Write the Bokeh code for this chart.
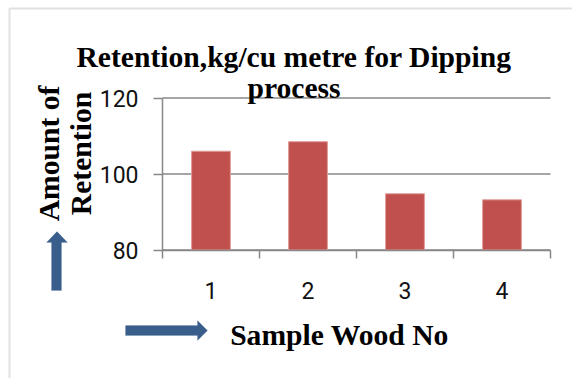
from math import pi

from bokeh.embed import file_html
from bokeh.models import (FixedTicker, Label, LinearAxis, PolyAnnotation,
                          Range1d)
from bokeh.plotting import figure
from bokeh.resources import INLINE

# Retention (kg per cubic metre) for the dipping process
samples = [1, 2, 3, 4]
retention = [106.0, 108.5, 94.8, 93.2]
tick_labels = {1: "1", 2: "2", 3: "3", 4: "4"}
y_ticks = [80, 100, 120]
category_edges = [0.5, 1.5, 2.5, 3.5, 4.5]

title_lines = ["Retention,kg/cu metre for Dipping", "process"]
y_title_lines = ["Amount of", "Retention"]
x_title = "Sample Wood No"

W, H = 572, 378
# pixel box of the plotting area inside the canvas
AREA_LEFT, AREA_RIGHT, AREA_TOP, AREA_BOTTOM = 162, 550, 97.5, 249.5

GRAY = "#878787"
BAR = "#C0504D"
ARROW = "#3A5E8C"
SERIF = "Liberation Serif"
SANS = "Roboto"
HEAD_SIZE = "29.6px"

# the frame covers the whole canvas; the ranges are widened so that the
# category / value span lands on the plotting area box
x0, x1 = category_edges[0], category_edges[-1]
y0, y1 = y_ticks[0], y_ticks[-1]
xs = (AREA_RIGHT - AREA_LEFT) / (x1 - x0)
ys = (AREA_BOTTOM - AREA_TOP) / (y1 - y0)
x_range = Range1d(x0 - AREA_LEFT / xs, x1 + (W - AREA_RIGHT) / xs)
y_range = Range1d(y0 - (H - AREA_BOTTOM) / ys, y1 + AREA_TOP / ys)

p = figure(width=W, height=H, output_backend="svg", toolbar_location=None,
           x_range=x_range, y_range=y_range,
           x_axis_type=None, y_axis_type=None,
           min_border=0, min_border_left=0, min_border_right=0,
           min_border_top=0, min_border_bottom=0)
p.outline_line_color = None
p.background_fill_color = "white"
p.border_fill_color = "white"
p.xgrid.grid_line_color = None
p.ygrid.grid_line_color = None

# horizontal gridlines across the category span
p.segment(x0=[x0] * len(y_ticks), x1=[x1] * len(y_ticks), y0=y_ticks, y1=y_ticks,
          line_color=GRAY, line_width=1.5)

p.vbar(x=samples, top=retention, bottom=y0, width=0.4,
       fill_color=BAR, line_color="#DE9C9A", line_width=1)

# value axis
yaxis = LinearAxis(ticker=FixedTicker(ticks=y_ticks), fixed_location=x0,
                   bounds=(y0, y1))
yaxis.axis_line_color = GRAY
yaxis.axis_line_width = 1.5
yaxis.major_tick_line_color = GRAY
yaxis.major_tick_line_width = 1.5
yaxis.major_tick_out = 9
yaxis.major_tick_in = 0
yaxis.minor_tick_line_color = None
yaxis.major_label_standoff = 15
yaxis.major_label_text_font = SANS
yaxis.major_label_text_font_size = "23px"
yaxis.major_label_text_color = "#111111"
p.add_layout(yaxis, "left")

# category axis: labels at bar centres, tick marks between categories
xaxis = LinearAxis(ticker=FixedTicker(ticks=samples, minor_ticks=category_edges),
                   fixed_location=y0, bounds=(x0, x1))
xaxis.major_label_overrides = tick_labels
xaxis.axis_line_color = GRAY
xaxis.axis_line_width = 1.5
xaxis.major_tick_line_color = None
xaxis.major_tick_out = 0
xaxis.major_tick_in = 0
xaxis.minor_tick_line_color = GRAY
xaxis.minor_tick_line_width = 1.5
xaxis.minor_tick_out = 8
xaxis.minor_tick_in = 0
xaxis.major_label_standoff = 24
xaxis.major_label_text_font = SANS
xaxis.major_label_text_font_size = "23px"
xaxis.major_label_text_color = "#111111"
p.add_layout(xaxis, "below")

# outer frame of the chart
p.add_layout(PolyAnnotation(xs=[9, 600, 600, 9], ys=[8, 8, 400, 400],
                            xs_units="canvas", ys_units="canvas",
                            fill_color=None, line_color="#9A9A9A",
                            line_width=2, level="underlay"))

# title
for i, line in enumerate(title_lines):
    p.add_layout(Label(x=293.5, y=56 + 31 * i, x_units="canvas", y_units="canvas",
                       text=line, text_align="center", text_baseline="alphabetic",
                       text_font=SERIF, text_font_style="bold",
                       text_font_size=HEAD_SIZE, text_color="black"))

# y-axis title, two rotated lines
for i, line in enumerate(y_title_lines):
    p.add_layout(Label(x=48 + 32 * i, y=153, x_units="canvas", y_units="canvas",
                       text=line, angle=pi / 2, text_align="center",
                       text_baseline="alphabetic",
                       text_font=SERIF, text_font_style="bold",
                       text_font_size=HEAD_SIZE, text_color="black"))

# x-axis title
p.add_layout(Label(x=339, y=334, x_units="canvas", y_units="canvas",
                   text=x_title, text_align="center", text_baseline="alphabetic",
                   text_font=SERIF, text_font_style="bold",
                   text_font_size=HEAD_SIZE, text_color="black"))

# block arrows beside the axis titles
p.add_layout(PolyAnnotation(
    xs=[51, 51, 46, 56.5, 67, 61, 61],
    ys=[290, 242, 242, 231, 242, 242, 290],
    xs_units="canvas", ys_units="canvas",
    fill_color=ARROW, fill_alpha=1, line_color=ARROW, line_width=0.5))
p.add_layout(PolyAnnotation(
    xs=[125, 197, 197, 207, 197, 197, 125],
    ys=[325, 325, 320, 330, 340, 335, 335],
    xs_units="canvas", ys_units="canvas",
    fill_color=ARROW, fill_alpha=1, line_color=ARROW, line_width=0.5))

open("out.html", "w").write(file_html(p, INLINE))
